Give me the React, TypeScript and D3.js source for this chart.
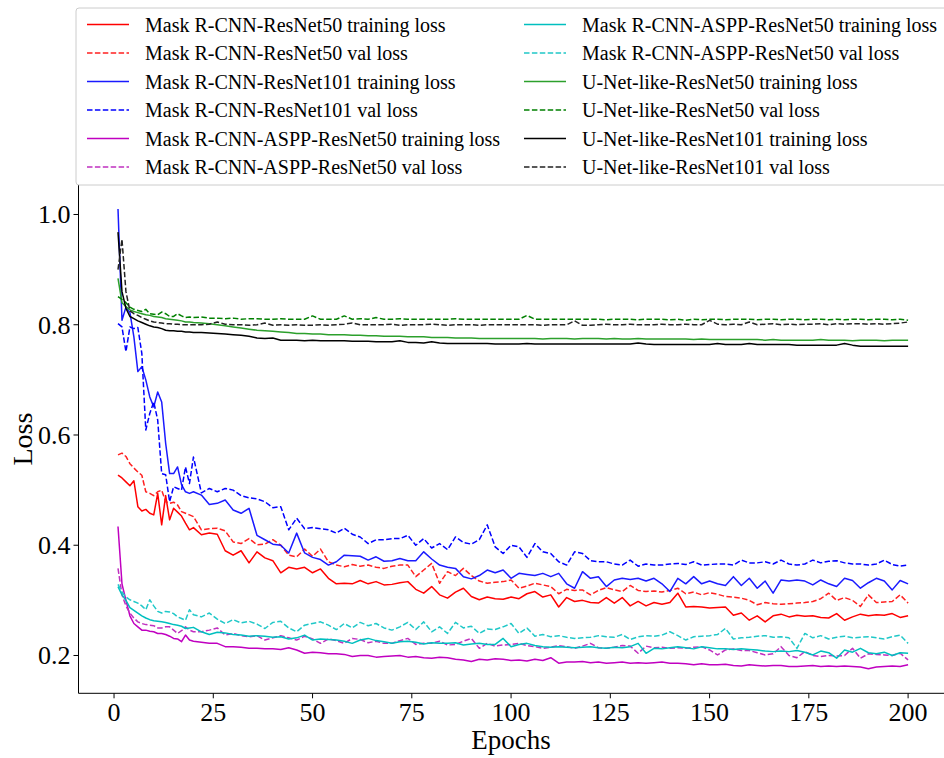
import * as d3 from "d3";

const EPOCHS = [
  1, 2, 3, 4, 5, 6, 7, 8, 9, 10, 11, 12, 13, 14, 15, 16, 17, 18, 19, 20,
  22, 24, 26, 28, 30, 32, 34, 36, 38, 40, 42, 44, 46, 48, 50, 52, 54, 56, 58, 60,
  62, 64, 66, 68, 70, 72, 74, 76, 78, 80, 82, 84, 86, 88, 90, 92, 94, 96, 98, 100,
  102, 104, 106, 108, 110, 112, 114, 116, 118, 120, 122, 124, 126, 128, 130, 132, 134, 136, 138, 140,
  142, 144, 146, 148, 150, 152, 154, 156, 158, 160, 162, 164, 166, 168, 170, 172, 174, 176, 178, 180,
  182, 184, 186, 188, 190, 192, 194, 196, 198, 200,
];

const X_TICKS = [0, 25, 50, 75, 100, 125, 150, 175, 200];
const Y_TICKS = [0.2, 0.4, 0.6, 0.8, 1.0];

// Mask R-CNN-ResNet50
const r50Train = [
  0.527, 0.522, 0.515, 0.508, 0.517, 0.47, 0.462, 0.465, 0.458, 0.455, 0.494, 0.437, 0.49, 0.446, 0.467, 0.46, 0.453, 0.44, 0.428, 0.432,
  0.419, 0.422, 0.42, 0.39, 0.382, 0.39, 0.368, 0.388, 0.377, 0.372,
  0.35, 0.36, 0.357, 0.36, 0.35, 0.357, 0.34, 0.33, 0.331, 0.33,
  0.336, 0.33, 0.334, 0.328, 0.329, 0.332, 0.334, 0.32, 0.313, 0.325,
  0.31, 0.304, 0.315, 0.322, 0.307, 0.301, 0.306, 0.303, 0.302, 0.306,
  0.303, 0.312, 0.316, 0.306, 0.31, 0.288, 0.305, 0.298, 0.3, 0.296,
  0.295, 0.305, 0.295, 0.305, 0.29, 0.298, 0.29, 0.296, 0.293, 0.296,
  0.313, 0.288, 0.289, 0.288, 0.286, 0.287, 0.288, 0.273, 0.277, 0.264,
  0.272, 0.261, 0.272, 0.275, 0.27, 0.273, 0.271, 0.272, 0.269, 0.268,
  0.276, 0.264, 0.27, 0.275, 0.272, 0.274, 0.273, 0.276, 0.269, 0.272,
];
const r50Val = [
  0.564, 0.567, 0.561, 0.548, 0.54, 0.533, 0.527, 0.497, 0.494, 0.49, 0.497, 0.5, 0.479, 0.476, 0.478, 0.473, 0.461, 0.458, 0.455, 0.452,
  0.428, 0.43, 0.431, 0.426, 0.406, 0.403, 0.412, 0.401, 0.402, 0.41,
  0.4, 0.382, 0.379, 0.393, 0.38, 0.393, 0.37, 0.364, 0.361, 0.365,
  0.362, 0.364, 0.36, 0.358, 0.362, 0.364, 0.364, 0.343, 0.355, 0.367,
  0.331, 0.352, 0.345, 0.358, 0.345, 0.335, 0.331, 0.333, 0.334, 0.337,
  0.322, 0.326, 0.331, 0.328, 0.325, 0.312, 0.32, 0.318, 0.319, 0.31,
  0.318, 0.323, 0.319, 0.316, 0.327, 0.318, 0.316, 0.317, 0.315, 0.318,
  0.322, 0.312, 0.315, 0.31, 0.314, 0.311, 0.307, 0.306, 0.304, 0.3,
  0.292, 0.296, 0.294, 0.293, 0.294, 0.295, 0.296, 0.298, 0.303, 0.313,
  0.3, 0.305, 0.3, 0.289, 0.31, 0.296, 0.297, 0.298, 0.31, 0.295,
];

// Mask R-CNN-ResNet101
const r101Train = [
  1.01, 0.808, 0.832, 0.822, 0.778, 0.715, 0.724, 0.7, 0.669, 0.651, 0.678, 0.66, 0.585, 0.53, 0.53, 0.542, 0.51, 0.497, 0.494, 0.497,
  0.491, 0.474, 0.476, 0.482, 0.464, 0.458, 0.467, 0.418, 0.41, 0.402,
  0.4, 0.386, 0.422, 0.386, 0.378, 0.374, 0.364, 0.37, 0.382, 0.381,
  0.38, 0.373, 0.379, 0.371, 0.372, 0.376, 0.372, 0.372, 0.388, 0.375,
  0.364, 0.36, 0.358, 0.343, 0.339, 0.345, 0.355, 0.35, 0.355, 0.34,
  0.349, 0.347, 0.345, 0.349, 0.343, 0.349, 0.33, 0.322, 0.352, 0.34,
  0.343, 0.325, 0.337, 0.34, 0.338, 0.34, 0.335, 0.34, 0.33, 0.316,
  0.34, 0.33, 0.343, 0.33, 0.335, 0.33, 0.327, 0.343, 0.327, 0.34,
  0.322, 0.335, 0.313, 0.337, 0.335, 0.337, 0.335, 0.328, 0.337, 0.33,
  0.325, 0.34, 0.336, 0.322, 0.332, 0.34, 0.335, 0.319, 0.336, 0.33,
];
const r101Val = [
  0.802, 0.796, 0.751, 0.796, 0.793, 0.795, 0.748, 0.609, 0.639, 0.66, 0.627, 0.53, 0.528, 0.479, 0.506, 0.503, 0.5, 0.542, 0.512, 0.56,
  0.495, 0.503, 0.497, 0.503, 0.5, 0.49, 0.486, 0.484, 0.479, 0.468,
  0.47, 0.428, 0.449, 0.43, 0.432, 0.43, 0.428, 0.422, 0.431, 0.42,
  0.415, 0.403, 0.41, 0.41, 0.412, 0.412, 0.418, 0.4, 0.412, 0.395,
  0.403, 0.392, 0.415, 0.405, 0.402, 0.41, 0.437, 0.397, 0.385, 0.4,
  0.397, 0.378, 0.403, 0.388, 0.385, 0.37, 0.364, 0.388, 0.385, 0.372,
  0.37, 0.37, 0.366, 0.364, 0.373, 0.362, 0.366, 0.364, 0.364, 0.366,
  0.367, 0.365, 0.37, 0.364, 0.365, 0.366, 0.366, 0.364, 0.373, 0.368,
  0.368, 0.37, 0.366, 0.373, 0.366, 0.364, 0.366, 0.373, 0.368, 0.371,
  0.372, 0.368, 0.366, 0.366, 0.364, 0.366, 0.373, 0.365, 0.362, 0.364,
];

// Mask R-CNN-ASPP-ResNet50 (magenta)
const asppTrain = [
  0.434, 0.33, 0.3, 0.272, 0.258, 0.252, 0.246, 0.246, 0.244, 0.243, 0.24, 0.24, 0.238, 0.235, 0.231, 0.23, 0.225, 0.237, 0.228, 0.226,
  0.224, 0.222, 0.222, 0.216, 0.216, 0.215, 0.213, 0.213, 0.212, 0.212,
  0.211, 0.214, 0.21, 0.204, 0.206, 0.205, 0.203, 0.203, 0.202, 0.198,
  0.2, 0.2, 0.197, 0.198, 0.199, 0.2, 0.197, 0.198, 0.196, 0.195,
  0.197, 0.196, 0.193, 0.192, 0.189, 0.193, 0.192, 0.194, 0.193, 0.191,
  0.192, 0.19, 0.193, 0.191, 0.196, 0.186, 0.188, 0.188, 0.189, 0.187,
  0.188, 0.186, 0.187, 0.188, 0.186, 0.187, 0.186, 0.187, 0.188, 0.186,
  0.186, 0.185, 0.183, 0.185, 0.183, 0.183, 0.184, 0.182, 0.181, 0.183,
  0.182, 0.181, 0.182, 0.182, 0.18, 0.18, 0.181, 0.182, 0.18, 0.181,
  0.18, 0.181, 0.18, 0.179, 0.176, 0.179, 0.18, 0.181, 0.18, 0.183,
];
const asppVal = [
  0.358, 0.31, 0.29, 0.277, 0.268, 0.261, 0.258, 0.256, 0.255, 0.254, 0.25, 0.25, 0.252, 0.252, 0.246, 0.24, 0.245, 0.252, 0.246, 0.243,
  0.243, 0.246, 0.25, 0.237, 0.24, 0.236, 0.234, 0.236, 0.228, 0.232,
  0.236, 0.232, 0.228, 0.235, 0.23, 0.222, 0.23, 0.227, 0.222, 0.231,
  0.229, 0.223, 0.226, 0.222, 0.222, 0.227, 0.231, 0.22, 0.222, 0.222,
  0.226, 0.219, 0.22, 0.226, 0.231, 0.213, 0.222, 0.217, 0.219, 0.22,
  0.222, 0.218, 0.216, 0.213, 0.215, 0.218, 0.216, 0.213, 0.217, 0.222,
  0.214, 0.213, 0.215, 0.218, 0.217, 0.204, 0.217, 0.214, 0.215, 0.213,
  0.214, 0.213, 0.215, 0.216, 0.21, 0.201, 0.21, 0.212, 0.209, 0.209,
  0.205, 0.201, 0.203, 0.216, 0.2, 0.196, 0.207, 0.2, 0.198, 0.2,
  0.199, 0.2, 0.213, 0.195, 0.203, 0.202, 0.201, 0.2, 0.204, 0.192,
];

// second ASPP run (cyan)
const asppCTrain = [
  0.325, 0.31, 0.3, 0.287, 0.282, 0.277, 0.272, 0.268, 0.265, 0.263, 0.262, 0.261, 0.26, 0.258, 0.256, 0.255, 0.253, 0.249, 0.25, 0.251,
  0.243, 0.238, 0.242, 0.241, 0.238, 0.237, 0.235, 0.236, 0.235, 0.233,
  0.234, 0.23, 0.232, 0.237, 0.228, 0.23, 0.229, 0.228, 0.226, 0.222,
  0.228, 0.231, 0.227, 0.225, 0.222, 0.225, 0.226, 0.224, 0.221, 0.223,
  0.222, 0.222, 0.223, 0.219, 0.221, 0.222, 0.22, 0.22, 0.231, 0.216,
  0.22, 0.222, 0.218, 0.216, 0.215, 0.216, 0.215, 0.214, 0.215, 0.216,
  0.214, 0.213, 0.215, 0.214, 0.216, 0.222, 0.204, 0.213, 0.212, 0.214,
  0.216, 0.214, 0.212, 0.216, 0.214, 0.212, 0.212, 0.211, 0.212, 0.211,
  0.21, 0.208, 0.207, 0.208, 0.207, 0.209, 0.206, 0.201, 0.208, 0.205,
  0.195, 0.21, 0.206, 0.213, 0.205, 0.203, 0.206, 0.2, 0.205, 0.204,
];
const asppCVal = [
  0.329, 0.315, 0.306, 0.301, 0.298, 0.295, 0.29, 0.283, 0.301, 0.29, 0.28, 0.277, 0.28, 0.279, 0.276, 0.27, 0.267, 0.264, 0.283, 0.274,
  0.27, 0.277, 0.266, 0.258, 0.265, 0.259, 0.262, 0.257, 0.249, 0.26,
  0.262, 0.25, 0.243, 0.255, 0.258, 0.261, 0.255, 0.247, 0.258, 0.25,
  0.26, 0.254, 0.258, 0.25, 0.246, 0.252, 0.26, 0.247, 0.261, 0.243,
  0.252, 0.24, 0.26, 0.25, 0.253, 0.24, 0.248, 0.247, 0.252, 0.258,
  0.24, 0.25, 0.235, 0.238, 0.234, 0.236, 0.233, 0.231, 0.232, 0.233,
  0.236, 0.234, 0.233, 0.238, 0.229, 0.234, 0.236, 0.235, 0.237, 0.243,
  0.236, 0.228, 0.234, 0.235, 0.236, 0.238, 0.249, 0.23, 0.232, 0.233,
  0.235, 0.236, 0.233, 0.234, 0.232, 0.213, 0.24, 0.232, 0.236, 0.23,
  0.233, 0.235, 0.232, 0.233, 0.234, 0.232, 0.23, 0.234, 0.237, 0.222,
];

// U-Net-like-ResNet50
const unet50Train = [
  0.884, 0.84, 0.833, 0.827, 0.824, 0.822, 0.82, 0.818, 0.817, 0.815, 0.814, 0.813, 0.811, 0.81, 0.809, 0.808, 0.807, 0.805, 0.805, 0.804,
  0.803, 0.802, 0.8, 0.798, 0.796, 0.794, 0.792, 0.79, 0.789, 0.788,
  0.787, 0.786, 0.784, 0.784, 0.783, 0.783, 0.782, 0.782, 0.782, 0.781,
  0.781, 0.78, 0.78, 0.779, 0.779, 0.779, 0.778, 0.778, 0.778, 0.777,
  0.777, 0.777, 0.776, 0.776, 0.776, 0.775, 0.775, 0.775, 0.775, 0.775,
  0.775, 0.775, 0.775, 0.774, 0.775, 0.775, 0.775, 0.774, 0.775, 0.775,
  0.775, 0.774, 0.775, 0.774, 0.774, 0.775, 0.774, 0.774, 0.774, 0.774,
  0.774, 0.774, 0.773, 0.774, 0.773, 0.773, 0.773, 0.773, 0.773, 0.773,
  0.773, 0.772, 0.773, 0.772, 0.772, 0.772, 0.772, 0.772, 0.773, 0.772,
  0.772, 0.772, 0.771, 0.772, 0.772, 0.772, 0.771, 0.772, 0.772, 0.772,
];
const unet50Val = [
  0.851, 0.846, 0.84, 0.832, 0.828, 0.826, 0.824, 0.828, 0.82, 0.819, 0.818, 0.823, 0.82, 0.815, 0.815, 0.82, 0.816, 0.813, 0.814, 0.813,
  0.814, 0.812, 0.812, 0.811, 0.812, 0.81, 0.811, 0.811, 0.81, 0.81,
  0.811, 0.81, 0.81, 0.81, 0.816, 0.81, 0.81, 0.81, 0.816, 0.81,
  0.811, 0.81, 0.813, 0.81, 0.81, 0.811, 0.81, 0.81, 0.81, 0.81,
  0.81, 0.81, 0.811, 0.81, 0.81, 0.81, 0.81, 0.81, 0.81, 0.81,
  0.81, 0.817, 0.81, 0.81, 0.81, 0.81, 0.81, 0.81, 0.81, 0.81,
  0.81, 0.809, 0.81, 0.81, 0.81, 0.809, 0.81, 0.81, 0.81, 0.809,
  0.81, 0.808, 0.81, 0.809, 0.81, 0.81, 0.809, 0.81, 0.81, 0.81,
  0.809, 0.81, 0.81, 0.809, 0.81, 0.81, 0.809, 0.81, 0.81, 0.809,
  0.81, 0.809, 0.81, 0.81, 0.809, 0.81, 0.81, 0.809, 0.81, 0.808,
];

// U-Net-like-ResNet101
const unet101Train = [
  0.968, 0.86, 0.83, 0.815, 0.811, 0.807, 0.804, 0.801, 0.798, 0.796, 0.795, 0.793, 0.79, 0.789, 0.789, 0.788, 0.788, 0.787, 0.787, 0.786,
  0.786, 0.785, 0.784, 0.783, 0.782, 0.781, 0.779, 0.776, 0.775, 0.776,
  0.772, 0.772, 0.772, 0.771, 0.772, 0.771, 0.771, 0.771, 0.771, 0.77,
  0.77, 0.77, 0.769, 0.769, 0.769, 0.771, 0.768, 0.768, 0.767, 0.769,
  0.767, 0.766, 0.766, 0.766, 0.766, 0.766, 0.766, 0.765, 0.765, 0.765,
  0.765, 0.766, 0.765, 0.765, 0.765, 0.765, 0.765, 0.765, 0.765, 0.765,
  0.765, 0.765, 0.765, 0.765, 0.765, 0.767, 0.765, 0.764, 0.764, 0.764,
  0.764, 0.764, 0.764, 0.764, 0.764, 0.766, 0.764, 0.764, 0.764, 0.766,
  0.764, 0.764, 0.764, 0.764, 0.764, 0.763, 0.763, 0.763, 0.763, 0.763,
  0.763, 0.766, 0.763, 0.761, 0.761, 0.761, 0.761, 0.761, 0.761, 0.761,
];
const unet101Val = [
  0.9, 0.955, 0.86, 0.825, 0.82, 0.817, 0.813, 0.81, 0.807, 0.805, 0.804, 0.803, 0.802, 0.802, 0.801, 0.801, 0.8, 0.8, 0.8, 0.8,
  0.8, 0.801, 0.805, 0.801, 0.8, 0.8, 0.799, 0.8, 0.803, 0.799,
  0.8, 0.799, 0.8, 0.799, 0.799, 0.8, 0.799, 0.8, 0.801, 0.803,
  0.8, 0.8, 0.8, 0.8, 0.801, 0.799, 0.8, 0.8, 0.8, 0.801,
  0.8, 0.799, 0.8, 0.8, 0.8, 0.799, 0.8, 0.8, 0.8, 0.8,
  0.8, 0.8, 0.8, 0.799, 0.8, 0.8, 0.8, 0.807, 0.799, 0.799,
  0.8, 0.801, 0.8, 0.8, 0.801, 0.8, 0.8, 0.8, 0.801, 0.8,
  0.8, 0.801, 0.8, 0.8, 0.808, 0.801, 0.8, 0.801, 0.8, 0.805,
  0.8, 0.801, 0.802, 0.8, 0.801, 0.8, 0.801, 0.801, 0.802, 0.8,
  0.802, 0.801, 0.802, 0.802, 0.801, 0.802, 0.801, 0.802, 0.803, 0.805,
];

const LABELS = [
  "Mask R-CNN-ResNet50 training loss",
  "Mask R-CNN-ResNet50 val loss",
  "Mask R-CNN-ResNet101 training loss",
  "Mask R-CNN-ResNet101 val loss",
  "Mask R-CNN-ASPP-ResNet50 training loss",
  "Mask R-CNN-ASPP-ResNet50 val loss",
  "Mask R-CNN-ASPP-ResNet50 training loss",
  "Mask R-CNN-ASPP-ResNet50 val loss",
  "U-Net-like-ResNet50 training loss",
  "U-Net-like-ResNet50 val loss",
  "U-Net-like-ResNet101 training loss",
  "U-Net-like-ResNet101 val loss",
];

const VALUES = [
  r50Train, r50Val, r101Train, r101Val, asppTrain, asppVal,
  asppCTrain, asppCVal, unet50Train, unet50Val, unet101Train, unet101Val,
];

const COLORS = [
  "#ff0000", "#ff2020", "#1a1aff", "#0000ff", "#c000c0", "#c030c0",
  "#00bfbf", "#20c8c8", "#2ca02c", "#008000", "#000000", "#222222",
];

const W = 944;
const H = 758;
const FONT = "'Liberation Serif', 'Times New Roman', serif";

export default function App() {
  const x = d3.scaleLinear().domain([-8.95, 209.95]).range([78.5, 947.6]);
  const y = d3.scaleLinear().domain([0.1314, 1.0535]).range([693.3, 185]);

  const line = d3
    .line<[number, number]>()
    .x((d) => x(d[0]))
    .y((d) => y(d[1]));

  const series = VALUES.map((vals, i) => ({
    label: LABELS[i],
    color: COLORS[i],
    dashed: i % 2 === 1,
    points: EPOCHS.map((e, j) => [e, vals[j]] as [number, number]),
  }));

  const plotLeft = x.range()[0];
  const plotBottom = y.range()[0];
  const plotTop = y.range()[1];

  const legendRowY = (r: number) => 24.5 + r * 28.5;

  return (
    <div style={{ position: "absolute", left: 0, top: 0 }}>
      <svg width={W} height={H} style={{ display: "block", background: "#fff" }} fontFamily={FONT}>
        <defs>
          <clipPath id="plot">
            <rect x={plotLeft} y={plotTop} width={W - plotLeft} height={plotBottom - plotTop} />
          </clipPath>
        </defs>

        <g clipPath="url(#plot)">
          {series.map((s, i) => (
            <path
              key={i}
              d={line(s.points) || ""}
              fill="none"
              stroke={s.color}
              strokeWidth={1.5}
              strokeDasharray={s.dashed ? "5.5,2.4" : undefined}
              strokeLinejoin="round"
            />
          ))}
        </g>

        {/* axes */}
        <line x1={plotLeft} x2={plotLeft} y1={plotTop} y2={plotBottom} stroke="#000" strokeWidth={1} />
        <line x1={plotLeft} x2={W} y1={plotBottom} y2={plotBottom} stroke="#000" strokeWidth={1} />

        {X_TICKS.map((t) => (
          <g key={t}>
            <line x1={x(t)} x2={x(t)} y1={plotBottom} y2={plotBottom + 5} stroke="#000" />
            <text x={x(t)} y={plotBottom + 28} textAnchor="middle" fontSize={26}>
              {t}
            </text>
          </g>
        ))}
        {Y_TICKS.map((t) => (
          <g key={t}>
            <line x1={plotLeft - 5} x2={plotLeft} y1={y(t)} y2={y(t)} stroke="#000" />
            <text x={plotLeft - 8} y={y(t) + 9} textAnchor="end" fontSize={26}>
              {t.toFixed(1)}
            </text>
          </g>
        ))}

        <text x={x(100)} y={749} textAnchor="middle" fontSize={27}>
          Epochs
        </text>
        <text transform={`translate(32, ${(plotTop + plotBottom) / 2}) rotate(-90)`} textAnchor="middle" fontSize={28}>
          Loss
        </text>

        {/* legend */}
        <rect x={76} y={8} width={900} height={177} rx={3} fill="#fff" fillOpacity={0.9} stroke="#cccccc" strokeWidth={1} />
        {series.map((s, i) => {
          const col = Math.floor(i / 6);
          const row = i % 6;
          const hx = col === 0 ? 87 : 524;
          const ly = legendRowY(row);
          return (
            <g key={i}>
              <line
                x1={hx}
                x2={hx + 42}
                y1={ly}
                y2={ly}
                stroke={s.color}
                strokeWidth={1.5}
                strokeDasharray={s.dashed ? "5.5,2.4" : undefined}
              />
              <text x={hx + 58} y={ly} dominantBaseline="central" fontSize={20}>
                {s.label}
              </text>
            </g>
          );
        })}
      </svg>
    </div>
  );
}
